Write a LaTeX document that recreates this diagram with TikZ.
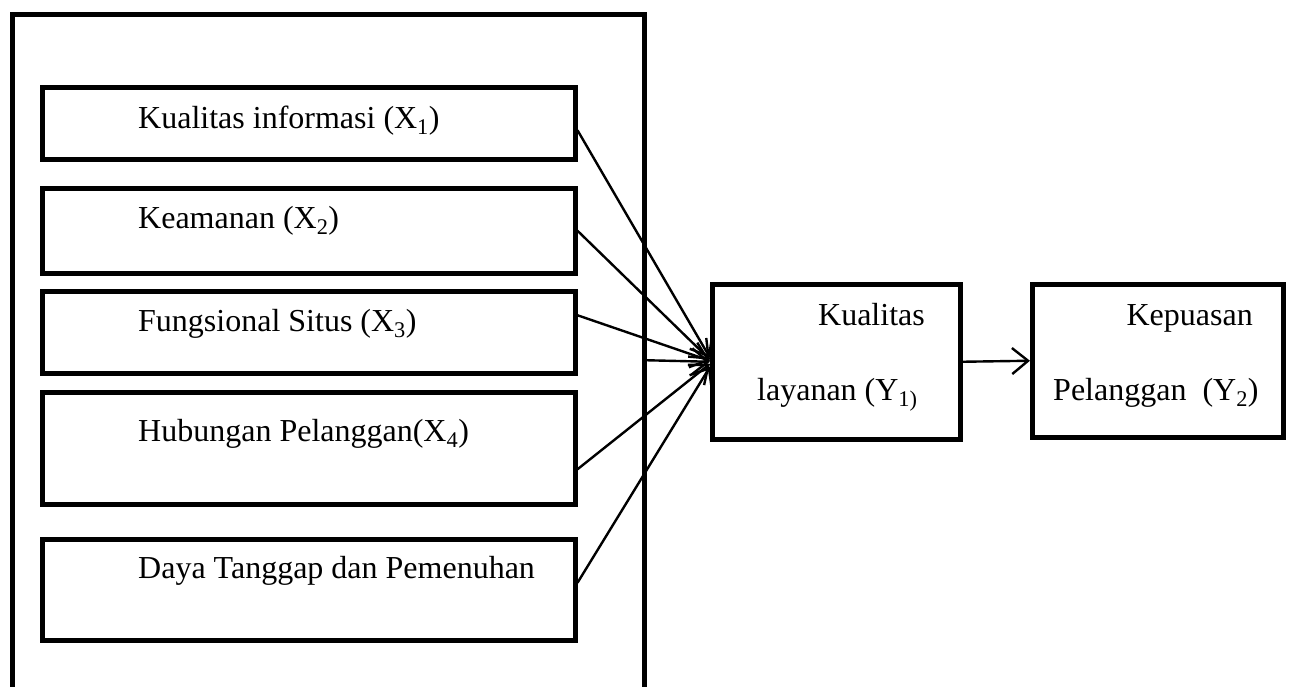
\documentclass[tikz,border=0pt]{standalone}
\usepackage{fontspec}
\setmainfont{Liberation Serif}
\usetikzlibrary{arrows.meta}
\tikzset{
  varbox/.style={draw,line width=4.5pt,inner sep=0pt,anchor=north west},
  vartext/.style={inner sep=0pt,font=\fontsize{32}{38}\selectfont},
  arr/.style={line width=2.4pt,-{Straight Barb[length=16pt,width=26pt]}}
}
\begin{document}
\begin{tikzpicture}[x=1pt,y=-1pt]
        \useasboundingbox (0,0) rectangle (1291,686);

        \node[varbox,minimum width=632pt,minimum height=720pt] (outer) at (10,12) {};

        \node[varbox,minimum width=533pt,minimum height=72pt] (b1) at (40,85) {};
        \node[varbox,minimum width=533pt,minimum height=85pt] (b2) at (40,186) {};
        \node[varbox,minimum width=533pt,minimum height=82pt] (b3) at (40,289) {};
        \node[varbox,minimum width=533pt,minimum height=112pt] (b4) at (40,390) {};
        \node[varbox,minimum width=533pt,minimum height=101pt] (b5) at (40,537) {};

        \node[vartext,anchor=base west] (t1) at (138,128) {Kualitas informasi (X\textsubscript{1})};
        \node[vartext,anchor=base west] (t2) at (138,228) {Keamanan (X\textsubscript{2})};
        \node[vartext,anchor=base west] (t3) at (138,331) {Fungsional Situs (X\textsubscript{3})};
        \node[vartext,anchor=base west] (t4) at (138,441) {Hubungan Pelanggan(X\textsubscript{4})};
        \node[vartext,anchor=base west] (t5) at (138,578) {Daya Tanggap dan Pemenuhan};

        \node[varbox,minimum width=248pt,minimum height=155pt] (y1) at (710,282) {};
        \node[varbox,minimum width=251pt,minimum height=153pt] (y2) at (1030,282) {};

        \node[vartext,anchor=base east] (y1a) at (925,325) {Kualitas};
        \node[vartext,anchor=base west] (y1b) at (757,400) {layanan (Y\textsubscript{1)}};
        \node[vartext,anchor=base east] (y2a) at (1253,325) {Kepuasan};
        \node[vartext,anchor=base west] (y2b) at (1053,400) {Pelanggan\ \ (Y\textsubscript{2})};

        % panah ke Y1
        \draw[arr] ([yshift=-7pt]b1.east) -- ([yshift=4pt]y1.west);
        \draw[arr] (b2.east) -- ([yshift=2pt]y1.west);
        \draw[arr] ([yshift=17pt]b3.east) -- ([yshift=1pt]y1.west);
        \draw[arr] ([yshift=14pt]outer.east) -- (y1.west);
        \draw[arr] ([yshift=-21pt]b4.east) -- ([yshift=-2pt]y1.west);
        \draw[arr] ([yshift=7pt]b5.east) -- ([yshift=-5pt]y1.west);

        % Y1 ke Y2
        \draw[arr] (y1.east) -- (y2.west);
\end{tikzpicture}
\end{document}
